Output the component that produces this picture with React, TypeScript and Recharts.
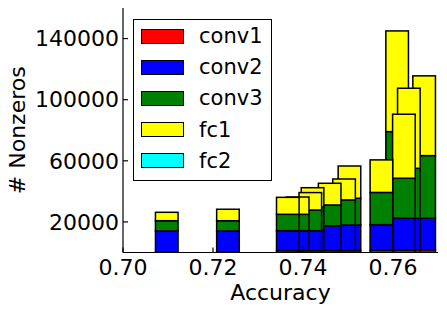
import { BarChart, Bar, XAxis, YAxis, Legend } from 'recharts';

// bars listed in drawing order (largest total first, so smaller ones sit on top)
const accuracy = [0.7609, 0.7669, 0.7635, 0.7624, 0.7574, 0.7503, 0.7491, 0.7459, 0.7421, 0.7416, 0.7388, 0.7366, 0.7233, 0.7097];
const conv1 = [1500, 1800, 1800, 1800, 1500, 1300, 1300, 1300, 1300, 1300, 1300, 1300, 300, 300];
const conv2 = [21000, 20600, 20600, 20600, 16700, 16700, 16700, 16200, 13500, 13000, 13000, 13000, 13800, 13800];
const conv3 = [56600, 41000, 32700, 26200, 21100, 17500, 16400, 13600, 15000, 13500, 10700, 10700, 6700, 6700];
const fc1 = [65900, 52200, 52400, 41900, 21300, 21100, 13700, 14200, 12600, 11400, 11300, 11100, 7500, 5500];
const fc2 = [0, 0, 0, 0, 0, 0, 0, 0, 0, 0, 0, 0, 0, 0];

const layers = ['conv1', 'conv2', 'conv3', 'fc1', 'fc2'];
const layerColors = ['#ff0000', '#0000ff', '#008000', '#ffff00', '#00ffff'];
const xTicks = [0.70, 0.72, 0.74, 0.76];
const xTicksTop = [0.72, 0.74, 0.76];
const yTicks = [20000, 60000, 100000, 140000];

const data = accuracy.map((a, i) => ({
  accuracy: a,
  conv1: conv1[i],
  conv2: conv2[i],
  conv3: conv3[i],
  fc1: fc1[i],
  fc2: fc2[i],
}));

const font = 'DejaVu Sans';
const tickStyle = { fill: '#000', fontSize: 22, fontFamily: font };

// matplotlib bars are 0.005 wide in data units; recharts shrinks them on a
// numeric axis with close points, so keep recharts' centre and widen the rect
const BAR_PX = 22.6;

function WideBar(props: any) {
  const { x, y, width, height, fill } = props;
  if (!height || height <= 0) return null;
  const cx = x + width / 2;
  return (
    <rect
      x={cx - BAR_PX / 2}
      y={y}
      width={BAR_PX}
      height={height}
      fill={fill}
      stroke="#000"
      strokeWidth={1.5}
    />
  );
}

function LegendBox() {
  return (
    <div
      style={{
        width: 139,
        height: 162,
        border: '1.5px solid #000',
        boxSizing: 'border-box',
        background: '#fff',
        position: 'relative',
        fontFamily: font,
        fontSize: 21,
        color: '#000',
      }}
    >
      {layers.map((name, i) => (
        <div
          key={name}
          style={{ position: 'absolute', left: 7, top: 8 + i * 31.2, height: 16, display: 'flex', alignItems: 'center' }}
        >
          <div
            style={{
              width: 43,
              height: 15,
              background: layerColors[i],
              border: '1.5px solid #000',
              boxSizing: 'border-box',
            }}
          />
          <span style={{ marginLeft: 15, lineHeight: '16px', whiteSpace: 'nowrap' }}>{name}</span>
        </div>
      ))}
    </div>
  );
}

const blank = () => '';

export default function App() {
  return (
    <div style={{ position: 'absolute', left: 0, top: 0 }}>
      <BarChart
        width={447}
        height={315}
        data={data}
        margin={{ top: 8, right: 9, bottom: 0, left: 0 }}
        style={{ fontFamily: font }}
      >
        <XAxis
          xAxisId="bottom"
          dataKey="accuracy"
          type="number"
          domain={[0.7, 0.77]}
          allowDataOverflow
          ticks={xTicks}
          tickFormatter={(v: number) => v.toFixed(2)}
          height={62.5}
          tickSize={-5}
          tickMargin={12}
          stroke="#000"
          axisLine={{ stroke: '#000', strokeWidth: 1.2 }}
          tickLine={{ stroke: '#000', strokeWidth: 1.2 }}
          tick={tickStyle}
          label={{
            value: 'Accuracy',
            position: 'insideBottom',
            offset: 15.5,
            style: { fill: '#000', fontSize: 22, fontFamily: font },
          }}
        />
        <XAxis
          xAxisId="top"
          orientation="top"
          type="number"
          domain={[0.7, 0.77]}
          allowDataOverflow
          ticks={xTicksTop}
          tickFormatter={blank}
          height={0}
          tickSize={-5}
          tick={{ fontSize: 0 }}
          stroke="#000"
          axisLine={{ stroke: '#000', strokeWidth: 1.2 }}
          tickLine={{ stroke: '#000', strokeWidth: 1.2 }}
        />
        <YAxis
          yAxisId="left"
          type="number"
          domain={[0, 160000]}
          allowDataOverflow
          ticks={yTicks}
          width={123}
          tickSize={-5}
          tickMargin={9}
          stroke="#000"
          axisLine={{ stroke: '#000', strokeWidth: 1.2 }}
          tickLine={{ stroke: '#000', strokeWidth: 1.2 }}
          tick={tickStyle}
          label={{
            value: '# Nonzeros',
            angle: -90,
            position: 'insideLeft',
            offset: 17,
            style: { textAnchor: 'middle', fill: '#000', fontSize: 22, fontFamily: font },
          }}
        />
        <YAxis
          yAxisId="right"
          orientation="right"
          type="number"
          domain={[0, 160000]}
          allowDataOverflow
          ticks={yTicks}
          tickFormatter={blank}
          width={0}
          tickSize={-5}
          tick={{ fontSize: 0 }}
          stroke="#000"
          axisLine={{ stroke: '#000', strokeWidth: 1.2 }}
          tickLine={{ stroke: '#000', strokeWidth: 1.2 }}
        />
        {layers.map((name, i) => (
          <Bar
            key={name}
            dataKey={name}
            name={name}
            stackId="nz"
            xAxisId="bottom"
            yAxisId="left"
            fill={layerColors[i]}
            shape={WideBar}
            isAnimationActive={false}
          />
        ))}
        <Legend
          layout="vertical"
          align="center"
          verticalAlign="middle"
          wrapperStyle={{ left: 133, top: 19, width: 139, height: 162 }}
          content={() => <LegendBox />}
        />
      </BarChart>
    </div>
  );
}
